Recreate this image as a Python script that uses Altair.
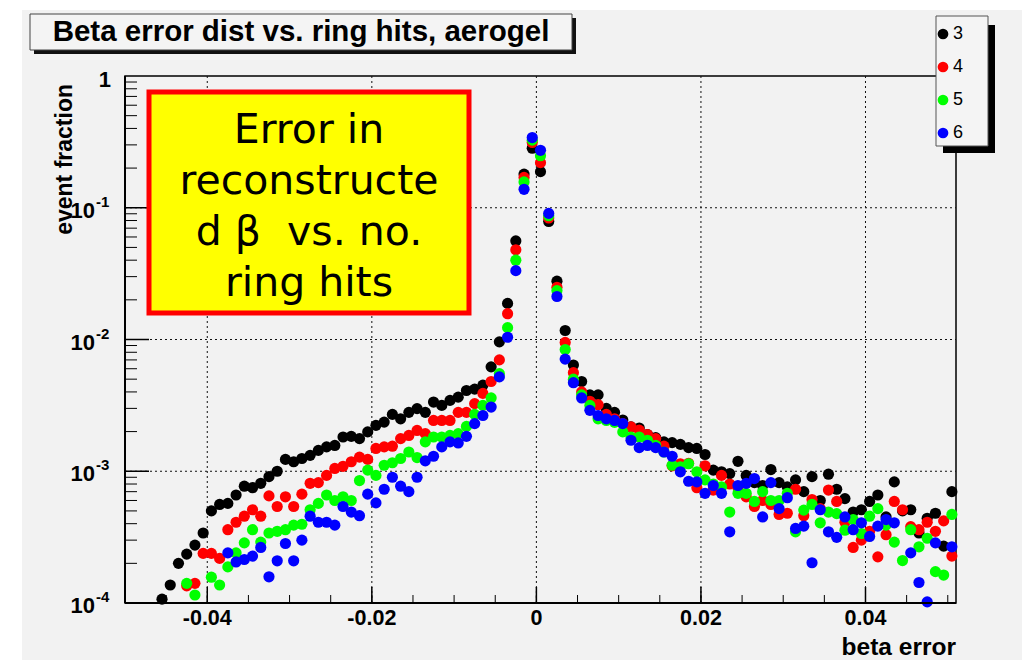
import altair as alt
import pandas as pd

# ---------------- data ----------------
series_names = ["3", "4", "5", "6"]
series_colors = ["#000000", "#ff0000", "#00ff00", "#0000ff"]

# 101 bins of width 0.001, centres -0.0495 ... 0.0505
bin_centers = [round(-0.0495 + 0.001 * i, 4) for i in range(101)]

N = None
hits3 = [N, N, N, N, 1.07e-4, 1.37e-4, 2.0e-4, 2.35e-4, 2.75e-4, 3.4e-4,
         5.0e-4, 5.6e-4, 5.7e-4, 6.6e-4, 7.7e-4, 7.5e-4, 8.1e-4, 9.1e-4, 1.0e-3, 1.23e-3,
         1.18e-3, 1.25e-3, 1.32e-3, 1.44e-3, 1.53e-3, 1.57e-3, 1.82e-3, 1.84e-3, 1.77e-3, 1.99e-3,
         2.23e-3, 2.36e-3, 2.7e-3, 2.5e-3, 2.8e-3, 2.99e-3, 2.8e-3, 3.35e-3, 3.16e-3, 3.45e-3,
         3.65e-3, 4.1e-3, 4.2e-3, 4.5e-3, 6.2e-3, 9.6e-3, 1.88e-2, 5.6e-2, 0.18, 0.283,
         0.188, 0.0787, 0.0277, 0.0117, 6.4e-3, 4.8e-3, 3.8e-3, 3.8e-3, 3.0e-3, 2.8e-3,
         2.45e-3, 2.17e-3, 2.13e-3, 1.9e-3, 1.8e-3, 1.67e-3, 1.65e-3, 1.6e-3, 1.51e-3, 1.49e-3,
         1.34e-3, 1.02e-3, 9.9e-4, 9.6e-4, 1.19e-3, 9.3e-4, 8.2e-4, 7.8e-4, 1.03e-3, 8.2e-4,
         7.6e-4, 8.6e-4, 7.0e-4, 9.1e-4, 6.0e-4, 9.5e-4, 7.3e-4, 6.2e-4, 4.9e-4, 5.1e-4,
         5.9e-4, 6.6e-4, 4.5e-4, 8.3e-4, 5.0e-4, 5.1e-4, 3.4e-4, 4.4e-4, 4.8e-4, 2.7e-4,
         7.0e-4]
hits4 = [N, N, N, N, N, N, N, 1.35e-4, 1.41e-4, 2.38e-4,
         2.38e-4, 2.18e-4, 3.6e-4, 4.1e-4, 4.56e-4, 5.1e-4, 4.56e-4, 6.5e-4, 5.4e-4, 6.4e-4,
         5.4e-4, 6.7e-4, 8.1e-4, 8.2e-4, 9.3e-4, 1.05e-3, 1.09e-3, 1.18e-3, 1.28e-3, 1.23e-3,
         1.49e-3, 1.53e-3, 1.55e-3, 1.77e-3, 1.87e-3, 2.04e-3, 1.93e-3, 2.43e-3, 2.43e-3, 2.43e-3,
         2.8e-3, 2.8e-3, 3.26e-3, 3.9e-3, 4.8e-3, 7.0e-3, 1.57e-2, 4.8e-2, 0.17, 0.313,
         0.22, 0.0836, 0.0249, 9.5e-3, 5.6e-3, 4.0e-3, 3.4e-3, 3.2e-3, 2.7e-3, 2.5e-3,
         2.3e-3, 2.17e-3, 2.05e-3, 1.9e-3, 1.77e-3, 1.55e-3, 1.1e-3, 1.14e-3, 1.15e-3, 7.5e-4,
         1.1e-3, 7.2e-4, 9.3e-4, 8.0e-4, 7.5e-4, 6.4e-4, 5.4e-4, 6.0e-4, 5.6e-4, 4.7e-4,
         4.8e-4, 7.3e-4, 4.6e-4, 6.1e-4, 5.2e-4, 7.2e-4, 5.9e-4, 4.1e-4, 2.64e-4, 3.0e-4,
         3.5e-4, 2.24e-4, 3.3e-4, 5.9e-4, 5.1e-4, 3.8e-4, 3.6e-4, 4.1e-4, 3.5e-4, 4.2e-4,
         2.27e-4]
hits5 = [N, N, N, N, N, N, N, 1.41e-4, 1.15e-4, N,
         1.57e-4, 1.37e-4, 1.88e-4, 2.4e-4, 2.86e-4, 3.6e-4, 2.9e-4, 3.4e-4, 3.5e-4, 3.6e-4,
         3.9e-4, 3.96e-4, 5.1e-4, 5.7e-4, 6.6e-4, 6.0e-4, 6.4e-4, 6.0e-4, 8.5e-4, 1.02e-3,
         9.3e-4, 1.11e-3, 1.16e-3, 1.25e-3, 1.4e-3, 1.27e-3, 1.67e-3, 1.82e-3, 1.82e-3, 1.87e-3,
         1.93e-3, 2.19e-3, 2.7e-3, 3.16e-3, 3.6e-3, 5.5e-3, 1.23e-2, 4.0e-2, 0.157, 0.326,
         0.248, 0.087, 0.0235, 8.4e-3, 5.0e-3, 3.8e-3, 3.16e-3, 2.5e-3, 2.43e-3, 2.35e-3,
         1.99e-3, 1.82e-3, 1.82e-3, 1.72e-3, 1.57e-3, 1.4e-3, 1.11e-3, 1.08e-3, 1.14e-3, 9.9e-4,
         8.6e-4, 8.0e-4, 7.6e-4, 4.9e-4, 6.8e-4, 6.8e-4, 5.9e-4, 7.0e-4, 6.0e-4, 6.0e-4,
         6.8e-4, 3.47e-4, 5.07e-4, 5.6e-4, 4.06e-4, 4.9e-4, 4.77e-4, 3.57e-4, 4.3e-4, 3.37e-4,
         4.56e-4, 5.2e-4, 3.9e-4, 2.9e-4, 2.1e-4, 3.6e-4, 2.67e-4, 3.1e-4, 1.73e-4, 1.63e-4,
         4.7e-4]
hits6 = [N, N, N, N, N, N, N, N, N, N,
         N, N, 2.4e-4, 2.05e-4, 2.14e-4, 2.27e-4, 2.64e-4, 1.58e-4, 2.09e-4, 2.83e-4,
         2.09e-4, 3.0e-4, 4.56e-4, 4.1e-4, 4.1e-4, 3.9e-4, 5.4e-4, 4.9e-4, 4.6e-4, 6.7e-4,
         5.75e-4, 7.3e-4, 9.0e-4, 7.7e-4, 7.0e-4, 9.0e-4, 1.2e-3, 1.3e-3, 1.53e-3, 1.67e-3,
         1.64e-3, 1.84e-3, 2.3e-3, 2.65e-3, 3.07e-3, 5.2e-3, 1.04e-2, 3.33e-2, 0.138, 0.341,
         0.273, 0.0906, 0.0212, 7.1e-3, 4.7e-3, 3.6e-3, 2.9e-3, 2.65e-3, 2.5e-3, 2.43e-3,
         2.3e-3, 1.72e-3, 1.51e-3, 1.57e-3, 1.51e-3, 1.4e-3, 1.3e-3, 9.9e-4, 8.4e-4, 8.3e-4,
         6.8e-4, 7.8e-4, 6.8e-4, 3.47e-4, 7.8e-4, 8.1e-4, 8.8e-4, 4.5e-4, 8.2e-4, 5.2e-4,
         6.3e-4, 3.68e-4, 3.83e-4, 2.02e-4, 5.1e-4, 3.47e-4, 3.15e-4, 4.5e-4, 3.6e-4, 4.06e-4,
         3.2e-4, 3.83e-4, 4.3e-4, 4.06e-4, N, 2.4e-4, 1.43e-4, 1.02e-4, 2.86e-4, N,
         2.67e-4]

x_major = [-0.04, -0.02, 0.0, 0.02, 0.04]
x_major_labels = ["-0.04", "-0.02", "0", "0.02", "0.04"]
x_minor = [round(-0.05 + 0.005 * k, 3) for k in range(21)]
y_major = [1e-3, 1e-2, 1e-1]
y_minor = [m * 10.0 ** d for d in (-4, -3, -2, -1) for m in range(2, 10)]
y_label_values = [0.1, 0.01, 0.001, 0.0001]
y_label_exps = ["-1", "-2", "-3", "-4"]

title_text = "Beta error dist vs. ring hits, aerogel"
x_title = "beta error"
y_title = "event fraction"
box_lines = ["Error in", "reconstructe", "d \u03b2\u00a0 vs. no.", "ring hits"]

# ---------------- build tables ----------------
rows = []
for name, vals in zip(series_names, [hits3, hits4, hits5, hits6]):
    for xc, v in zip(bin_centers, vals):
        if v is not None:
            rows.append({"beta_err": xc, "frac": v, "hits": name})
df = pd.DataFrame(rows)

W, H = 831, 527
FONT = "Liberation Sans"
xscale = alt.Scale(domain=[-0.05, 0.051], nice=False, zero=False)
yscale = alt.Scale(type="log", domain=[1e-4, 1], nice=False)
one = pd.DataFrame({"a": [0]})


def X(f):
    return alt.X(f, scale=xscale, axis=None)


def Y(f):
    return alt.Y(f, scale=yscale, axis=None)


# dotted grid
xgrid = alt.Chart(pd.DataFrame({"v": x_major})).mark_rule(
    color="#111111", strokeWidth=1, strokeDash=[2, 3]
).encode(x=X("v:Q"), y=alt.value(0), y2=alt.value(H))
ygrid = alt.Chart(pd.DataFrame({"v": y_major})).mark_rule(
    color="#111111", strokeWidth=1, strokeDash=[2, 3]
).encode(y=Y("v:Q"), x=alt.value(0), x2=alt.value(W))

points = alt.Chart(df).mark_circle(size=125, opacity=1).encode(
    x=X("beta_err:Q"),
    y=Y("frac:Q"),
    color=alt.Color(
        "hits:N",
        scale=alt.Scale(domain=series_names, range=series_colors),
        legend=alt.Legend(
            orient="none", legendX=809, legendY=-51, title=None, direction="vertical",
            labelFont=FONT, labelFontSize=18, labelColor="black", symbolType="circle",
            symbolSize=115, symbolStrokeWidth=0, rowPadding=15, labelOffset=1, padding=0,
            zindex=2,
        ),
    ),
    order=alt.Order("hits:N"),
)

# axis lines
x_line = alt.Chart(one).mark_rule(color="black", strokeWidth=2).encode(
    x=alt.value(0), x2=alt.value(W), y=alt.value(H))
y_line = alt.Chart(one).mark_rule(color="black", strokeWidth=2).encode(
    x=alt.value(0), y=alt.value(0), y2=alt.value(H))

# inward ticks (ROOT style)
xt_minor = alt.Chart(pd.DataFrame({"v": x_minor})).mark_rule(color="black", strokeWidth=1).encode(
    x=X("v:Q"), y=alt.value(H), y2=alt.value(H - 8))
xt_major = alt.Chart(pd.DataFrame({"v": x_major})).mark_rule(color="black", strokeWidth=1.5).encode(
    x=X("v:Q"), y=alt.value(H), y2=alt.value(H - 16))
yt_minor = alt.Chart(pd.DataFrame({"v": y_minor})).mark_rule(color="black", strokeWidth=1).encode(
    y=Y("v:Q"), x=alt.value(0), x2=alt.value(12))
yt_major = alt.Chart(pd.DataFrame({"v": y_major})).mark_rule(color="black", strokeWidth=1.5).encode(
    y=Y("v:Q"), x=alt.value(0), x2=alt.value(24))

# tick labels
xlab = alt.Chart(pd.DataFrame({"v": x_major, "t": x_major_labels})).mark_text(
    font=FONT, fontWeight="bold", fontSize=21.5, align="center", baseline="top", color="black"
).encode(x=X("v:Q"), y=alt.value(H + 5), text="t:N")

ylab_df = pd.DataFrame({"v": y_label_values, "base": ["10"] * 4, "exp": y_label_exps})
ylab_base = alt.Chart(ylab_df).mark_text(
    font=FONT, fontWeight="bold", fontSize=22, align="right", baseline="middle", dy=3, color="black"
).encode(y=Y("v:Q"), x=alt.value(-30), text="base:N")
ylab_exp = alt.Chart(ylab_df).mark_text(
    font=FONT, fontWeight="bold", fontSize=15, align="left", baseline="middle", dy=-6, color="black"
).encode(y=Y("v:Q"), x=alt.value(-29), text="exp:N")
ylab_one = alt.Chart(pd.DataFrame({"v": [1.0], "t": ["1"]})).mark_text(
    font=FONT, fontWeight="bold", fontSize=22, align="right", baseline="middle", dy=4, color="black"
).encode(y=Y("v:Q"), x=alt.value(-14), text="t:N")

# axis titles
xtitle = alt.Chart(one).mark_text(
    font=FONT, fontWeight="bold", fontSize=24.5, align="right", baseline="alphabetic", color="black"
).encode(x=alt.value(W), y=alt.value(H + 52), text=alt.value(x_title))
ytitle = alt.Chart(one).mark_text(
    font=FONT, fontWeight="bold", fontSize=23, align="right", baseline="alphabetic", angle=270,
    color="black"
).encode(x=alt.value(-53), y=alt.value(8), text=alt.value(y_title))

# page decoration: white margins
white_left = alt.Chart(one).mark_rect(color="white").encode(
    x=alt.value(-125), x2=alt.value(-103), y=alt.value(-76), y2=alt.value(H + 57))
white_top = alt.Chart(one).mark_rect(color="white").encode(
    x=alt.value(-125), x2=alt.value(W + 66), y=alt.value(-76), y2=alt.value(-66))

# title box
title_shadow = alt.Chart(one).mark_rect(color="#111111").encode(
    x=alt.value(-91), x2=alt.value(451), y=alt.value(-58), y2=alt.value(-22))
title_box = alt.Chart(one).mark_rect(fill="#f4f4f4", stroke="#444444", strokeWidth=1).encode(
    x=alt.value(-95), x2=alt.value(447), y=alt.value(-62), y2=alt.value(-26))
title_txt = alt.Chart(one).mark_text(
    font=FONT, fontWeight="bold", fontSize=29.5, align="center", baseline="alphabetic", color="black"
).encode(x=alt.value(176), y=alt.value(-35), text=alt.value(title_text))

# legend box
leg_shadow = alt.Chart(one).mark_rect(color="black").encode(
    x=alt.value(818), x2=alt.value(870), y=alt.value(-51), y2=alt.value(77))
leg_box = alt.Chart(one).mark_rect(fill="#f4f4f4", stroke="#555555", strokeWidth=1).encode(
    x=alt.value(811), x2=alt.value(863), y=alt.value(-60), y2=alt.value(70))

# yellow annotation box
ybox = alt.Chart(one).mark_rect(fill="#ffff00", stroke="#ff0000", strokeWidth=5).encode(
    x=alt.value(24), x2=alt.value(344), y=alt.value(16), y2=alt.value(237))
ybox_txt = alt.Chart(one).mark_text(
    font="DejaVu Sans", fontSize=41, align="center", baseline="alphabetic", lineHeight=51, color="black"
).encode(x=alt.value(184), y=alt.value(67), text=alt.value(box_lines))

chart = alt.layer(
    xgrid, ygrid,
    points,
    x_line, y_line,
    white_left, white_top, title_shadow, title_box, title_txt,
    xt_minor, xt_major, yt_minor, yt_major,
    xlab, ylab_base, ylab_exp, ylab_one, xtitle, ytitle,
    ybox, ybox_txt,
    leg_shadow, leg_box,
).properties(
    width=W, height=H,
    autosize=alt.AutoSizeParams(type="none"),
    padding={"left": 125, "top": 76, "right": 66, "bottom": 57},
    background="#f2f2f2",
).configure_view(stroke="black", strokeWidth=1.5)

chart.save("out.html", embed_options={"renderer": "svg", "actions": False})
